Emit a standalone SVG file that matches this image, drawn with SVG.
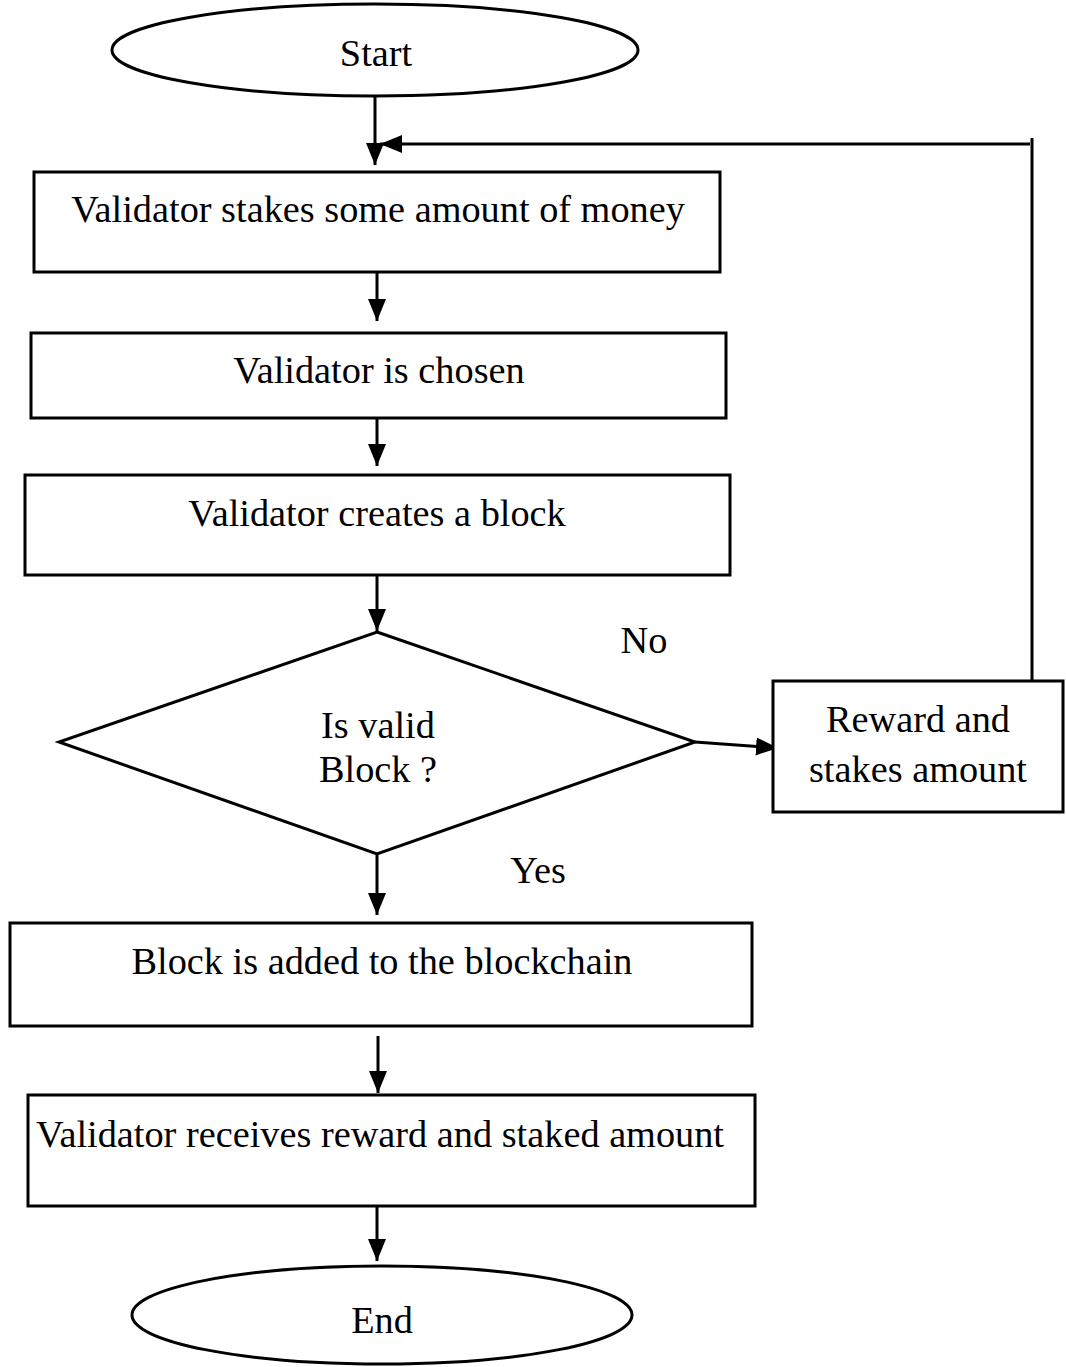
<svg xmlns="http://www.w3.org/2000/svg" width="1066" height="1367" viewBox="0 0 1066 1367">
<defs>
<style>
.s{fill:#fff;stroke:#000;stroke-width:3}
.t{font-family:"Liberation Serif","Times New Roman",serif;font-size:38.3px;fill:#000;text-anchor:middle}
.c{fill:none;stroke:#000;stroke-width:3}
</style>
<marker id="ah" markerUnits="userSpaceOnUse" markerWidth="24" markerHeight="20" refX="22" refY="9" orient="auto" viewBox="0 0 24 18">
<path d="M0,0 L22,9 L0,18 Z" fill="#000"/>
</marker>
</defs>
<rect width="1066" height="1367" fill="#fff"/>
<g id="connectors">
<line class="c" x1="375" y1="97" x2="375" y2="165" marker-end="url(#ah)"/>
<polyline class="c" points="1032,680 1032,138"/>
<line class="c" x1="1030" y1="144" x2="380" y2="144" marker-end="url(#ah)"/>
<line class="c" x1="377" y1="263" x2="377" y2="321" marker-end="url(#ah)"/>
<line class="c" x1="377" y1="406" x2="377" y2="466" marker-end="url(#ah)"/>
<line class="c" x1="377" y1="575" x2="377" y2="631" marker-end="url(#ah)"/>
<line class="c" x1="695" y1="742" x2="778" y2="748" marker-end="url(#ah)"/>
<line class="c" x1="377" y1="855" x2="377" y2="915" marker-end="url(#ah)"/>
<line class="c" x1="378" y1="1036" x2="378" y2="1093" marker-end="url(#ah)"/>
<line class="c" x1="377" y1="1205" x2="377" y2="1261" marker-end="url(#ah)"/>
<text class="t" x="644" y="653">No</text>
<text class="t" x="538" y="883">Yes</text>
</g>
<g id="start">
<ellipse class="s" cx="375" cy="50" rx="263" ry="46"/>
<text class="t" x="376" y="66">Start</text>
</g>
<g id="stake">
<rect class="s" x="34" y="172" width="686" height="100"/>
<text class="t" x="378" y="222">Validator stakes some amount of money</text>
</g>
<g id="chosen">
<rect class="s" x="31" y="333" width="695" height="85"/>
<text class="t" x="379" y="383">Validator is chosen</text>
</g>
<g id="creates">
<rect class="s" x="25" y="475" width="705" height="100"/>
<text class="t" x="377" y="526">Validator creates a block</text>
</g>
<g id="decision">
<polygon class="s" points="377,632 695,742 377,854 59,742"/>
<text class="t" x="378" y="738">Is valid</text>
<text class="t" x="378" y="782">Block ?</text>
</g>
<g id="reward">
<rect class="s" x="773" y="681" width="290" height="131"/>
<text class="t" x="918" y="732">Reward and</text>
<text class="t" x="918" y="782">stakes amount</text>
</g>
<g id="added">
<rect class="s" x="10" y="923" width="742" height="103"/>
<text class="t" x="382" y="974">Block is added to the blockchain</text>
</g>
<g id="receives">
<rect class="s" x="28" y="1095" width="727" height="111"/>
<text class="t" x="380" y="1147">Validator receives reward and staked amount</text>
</g>
<g id="end">
<ellipse class="s" cx="382" cy="1315" rx="250" ry="49"/>
<text class="t" x="382" y="1333">End</text>
</g>
</svg>
